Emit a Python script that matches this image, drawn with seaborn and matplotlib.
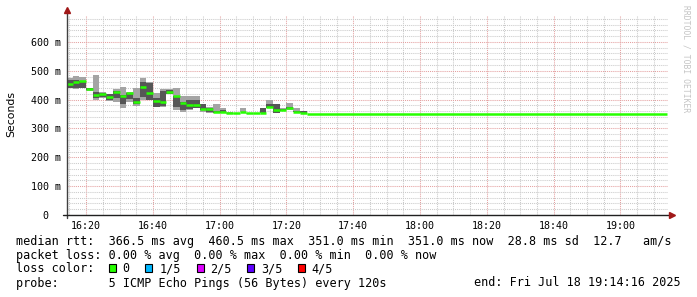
import numpy as np
import pandas as pd
import matplotlib
matplotlib.use("Agg")
import matplotlib.pyplot as plt
from matplotlib.patches import Rectangle
import seaborn as sns

# ---------------- data (ms, per 2-minute step) ----------------
window_start = "16:14:16"
window_end = "19:14:16"
last_value_time = "19:14:00"
step_edges = ["16:14:16"] + [f"{16 + m // 60}:{m % 60:02d}" for m in range(16, 87, 2)]

rtt_min = [439, 436, 439, 431, 399, 405, 397, 393, 370, 393, 379, 400,
           399, 374, 376, 418, 364, 358, 364, 370, 358, 353, 353, 353,
           351, 351, 356, 351, 351, 352, 370, 353, 359, 364, 356, 353]
rtt_p2 = [442, 439, 441, 432, 405, 408, 400, 405, 384, 401, 384, 410,
          400, 376, 379, 420, 376, 364, 366, 372, 364, 358, 355, 355,
          352, 352, 356, 352, 352, 353, 370, 355, 360, 366, 356, 354]
rtt_med = [453, 462, 464, 436, 416, 421, 408, 428, 414, 422, 393, 443,
           424, 397, 391, 427, 412, 387, 380, 380, 368, 366, 358, 358,
           353, 353, 356, 353, 353, 354, 376, 364, 364, 372, 356, 353]
rtt_p4 = [468, 468, 466, 440, 428, 422, 418, 430, 416, 424, 405, 462,
          457, 405, 430, 434, 413, 393, 399, 399, 384, 370, 362, 364,
          354, 353, 358, 354, 354, 372, 384, 384, 366, 376, 362, 360]
rtt_max = [474, 482, 477, 442, 484, 428, 420, 437, 445, 428, 441, 476,
           461, 422, 436, 437, 439, 411, 413, 411, 384, 376, 384, 372,
           358, 355, 372, 354, 354, 372, 399, 384, 370, 387, 372, 360]
tail_value = 351.0          # constant median after the last smoke step

y_ticks = [0, 100, 200, 300, 400, 500, 600]
y_tick_labels = ["0  ", "100 m", "200 m", "300 m", "400 m", "500 m", "600 m"]
x_tick_labels = ["16:20", "16:40", "17:00", "17:20", "17:40", "18:00", "18:20", "18:40", "19:00"]

legend_lines = [
    "median rtt:  366.5 ms avg  460.5 ms max  351.0 ms min  351.0 ms now  28.8 ms sd  12.7   am/s",
    "packet loss: 0.00 % avg  0.00 % max  0.00 % min  0.00 % now",
]
loss_labels = ["0", "1/5", "2/5", "3/5", "4/5"]
loss_colors = ["#26ff00", "#00b8ff", "#dd00ff", "#5e00ff", "#ff0000"]
probe_text = "probe:       5 ICMP Echo Pings (56 Bytes) every 120s"
end_text = "end: Fri Jul 18 19:14:16 2025"


def to_min(s):
    parts = [int(p) for p in s.split(":")]
    h, m = parts[0], parts[1]
    sec = parts[2] if len(parts) > 2 else 0
    return (h - 16) * 60 + m + sec / 60.0


# ---------------- figure ----------------
sns.set_theme(style="white")
plt.rcParams["font.family"] = ["DejaVu Sans Mono", "DejaVu Sans"]

W, H = 697, 297
fig = plt.figure(figsize=(W / 100, H / 100), dpi=100)
fig.patch.set_facecolor("white")
ax_l, ax_r, ax_b, ax_t = 67, 668, 215, 16
ax = fig.add_axes([ax_l / W, 1 - ax_b / H, (ax_r - ax_l) / W, (ax_b - ax_t) / H])
ax.set_facecolor("white")

edges = np.array([to_min(s) for s in step_edges])
left = edges[:-1]
width = np.diff(edges)
lo = np.array(rtt_min, float); p2 = np.array(rtt_p2, float)
med = np.array(rtt_med, float); p4 = np.array(rtt_p4, float); hi = np.array(rtt_max, float)

ax.bar(left, hi - lo, width=width, bottom=lo, align="edge", color="#a4a4a4", linewidth=0, zorder=2)
ax.bar(left, p4 - p2, width=width, bottom=p2, align="edge", color="#565656", linewidth=0, zorder=3)

# median segments (disconnected horizontal strokes) via seaborn
x0 = list(left) + [edges[-1]]
x1 = list(edges[1:]) + [to_min(last_value_time)]
yv = list(med) + [tail_value]
rows = []
for i, (a, b, v) in enumerate(zip(x0, x1, yv)):
    rows.append({"t": a, "rtt": v, "seg": i})
    rows.append({"t": b, "rtt": v, "seg": i})
df_med = pd.DataFrame(rows)
sns.lineplot(data=df_med, x="t", y="rtt", units="seg", estimator=None, color=loss_colors[0],
             linewidth=1.8, solid_capstyle="butt", ax=ax, zorder=4, legend=False)

ax.set_xlim(to_min(window_start), to_min(window_end))
ax.set_ylim(0, 690)

major_x = [to_min(s) for s in x_tick_labels]
ax.set_xticks(major_x)
ax.set_xticklabels(x_tick_labels)
minor_x = [m for m in range(15, 195, 5) if m not in [int(v) for v in major_x]]
ax.set_xticks(minor_x, minor=True)
ax.set_yticks(y_ticks)
ax.set_yticklabels(y_tick_labels)
ax.set_yticks([v for v in range(20, 690, 20) if v % 100 != 0], minor=True)

ax.set_axisbelow(True)
ax.grid(which="minor", color="#cacaca", linestyle=(0, (1, 1)), linewidth=0.75)
ax.grid(which="major", color="#e4a0a0", linestyle=(0, (1, 1)), linewidth=0.75)

for s in ax.spines.values():
    s.set_visible(False)
ax.tick_params(which="major", length=2.2, width=0.8, color="#404040", direction="out",
               labelsize=7.2, pad=2.2, labelcolor="black")
ax.tick_params(which="minor", length=0)
ax.set_xlabel("")
ax.set_ylabel("")

# axis lines with arrows
px_x = 1.0 / (ax_r - ax_l)
px_y = 1.0 / (ax_b - ax_t)
ax.plot([0, 0], [-3 * px_y, 1 + 3 * px_y], transform=ax.transAxes, color="#404040",
        lw=1.0, clip_on=False, zorder=6)
ax.plot([-4 * px_x, 1 + 2 * px_x], [0, 0], transform=ax.transAxes, color="#202020",
        lw=1.0, clip_on=False, zorder=6)
ax.plot([0], [1 + 6 * px_y], marker="^", markersize=5, color="#a01818",
        transform=ax.transAxes, clip_on=False, zorder=7)
ax.plot([1 + 4 * px_x], [0], marker=">", markersize=5, color="#a01818",
        transform=ax.transAxes, clip_on=False, zorder=7)

# y label
fig.text(11 / W, 1 - 114 / H, "Seconds", rotation=90, ha="center", va="center",
         fontsize=7.8, family=["DejaVu Sans"], color="black")

# watermark
fig.text(686 / W, 1 - 5 / H, "RRDTOOL / TOBI OETIKER", rotation=270, ha="center", va="top",
         fontsize=5.8, color="#c4c4c4")

# legend
fs = 8.45
line_y = [241.5, 255.5, 269, 283]
for txt, yy in zip(legend_lines, line_y[:2]):
    fig.text(16 / W, 1 - yy / H, txt, ha="left", va="center", fontsize=fs, color="black")
fig.text(16 / W, 1 - line_y[2] / H, "loss color:", ha="left", va="center", fontsize=fs, color="black")
box_x = [108.5, 145, 196.5, 246.5, 298]
text_x = [122.5, 160, 210.5, 261, 311]
for bx, tx, lab, col in zip(box_x, text_x, loss_labels, loss_colors):
    fig.patches.append(Rectangle((bx / W, 1 - 272 / H), 7 / W, 8 / H, transform=fig.transFigure,
                                 facecolor=col, edgecolor="black", linewidth=0.8))
    fig.text(tx / W, 1 - line_y[2] / H, lab, ha="left", va="center", fontsize=fs, color="black")
fig.text(16 / W, 1 - line_y[3] / H, probe_text, ha="left", va="center", fontsize=fs, color="black")
fig.text(681 / W, 1 - line_y[3] / H, end_text, ha="right", va="center", fontsize=fs, color="black")

fig.savefig("out.png", dpi=100, facecolor="white")
